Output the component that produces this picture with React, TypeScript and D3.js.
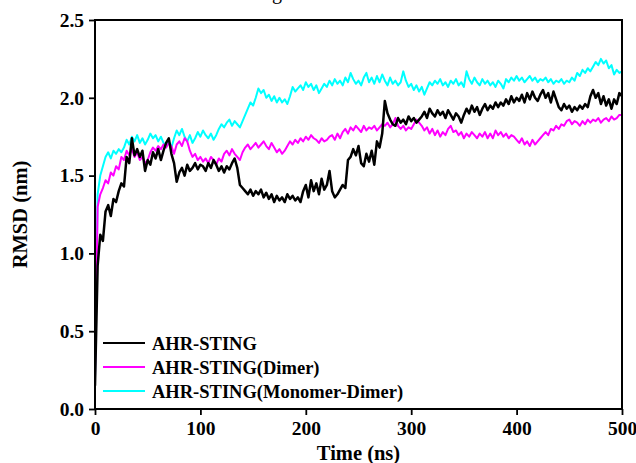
import React, { useEffect, useRef } from "react";
import * as d3 from "d3";

// RMSD trajectories, sampled every 2.5 ns from 0 to 500 ns (nm)
const timeStep = 2.5;

const ahrSting = [
  0.15, 0.92, 1.12, 1.08, 1.27, 1.31, 1.24, 1.35, 1.33, 1.40,
  1.45, 1.43, 1.62, 1.58, 1.74, 1.63, 1.67, 1.62, 1.66, 1.53,
  1.60, 1.57, 1.65, 1.61, 1.67, 1.60, 1.66, 1.71, 1.74, 1.64,
  1.58, 1.46, 1.52, 1.55, 1.50, 1.57, 1.53, 1.55, 1.58, 1.54,
  1.57, 1.56, 1.53, 1.58, 1.55, 1.60, 1.57, 1.53, 1.56, 1.52,
  1.56, 1.54, 1.58, 1.61, 1.55, 1.44, 1.42, 1.40, 1.38, 1.41,
  1.37, 1.40, 1.38, 1.41, 1.36, 1.39, 1.35, 1.38, 1.33, 1.37,
  1.34, 1.36, 1.33, 1.38, 1.35, 1.37, 1.34, 1.36, 1.33, 1.40,
  1.44, 1.36, 1.47, 1.40, 1.45, 1.38, 1.48, 1.41, 1.44, 1.53,
  1.40, 1.36, 1.38, 1.41, 1.44, 1.42, 1.60, 1.62, 1.67, 1.63,
  1.69, 1.58, 1.56, 1.64, 1.59, 1.66, 1.57, 1.72, 1.68, 1.77,
  1.98, 1.90, 1.86, 1.83, 1.82, 1.87, 1.84, 1.86, 1.83, 1.88,
  1.85, 1.87, 1.84, 1.86, 1.88, 1.91, 1.87, 1.93, 1.90, 1.88,
  1.92, 1.89, 1.91, 1.87, 1.92, 1.89, 1.86, 1.90, 1.88, 1.84,
  1.89, 1.93, 1.90, 1.95, 1.91, 1.94, 1.89, 1.93, 1.96, 1.92,
  1.95, 1.93, 1.97, 1.94, 1.97, 1.95, 1.99, 1.96, 2.01, 1.97,
  2.00, 1.98, 2.02, 1.97, 2.03, 1.99, 2.04, 2.00, 1.98, 2.02,
  2.05, 2.00, 2.03, 1.97, 2.04, 1.99, 1.94, 1.92, 1.96, 1.93,
  1.95, 1.91, 1.94, 1.92, 1.95, 1.93, 1.96, 1.94, 2.01, 2.05,
  2.00, 2.03, 1.96, 2.01, 1.95, 1.99, 1.93, 1.99, 1.96, 2.03,
  2.01,
];

const ahrStingDimer = [
  0.20, 1.30, 1.38, 1.42, 1.47, 1.45, 1.52, 1.50, 1.56, 1.54,
  1.62, 1.60, 1.66, 1.63, 1.67, 1.62, 1.65, 1.60, 1.62, 1.58,
  1.60, 1.65, 1.68, 1.66, 1.69, 1.67, 1.70, 1.68, 1.71, 1.69,
  1.64, 1.70, 1.72, 1.69, 1.74, 1.72, 1.66, 1.62, 1.64, 1.60,
  1.62, 1.59, 1.61, 1.58, 1.62, 1.60, 1.57, 1.61, 1.59, 1.64,
  1.66, 1.63, 1.67, 1.64, 1.62, 1.60, 1.65, 1.68, 1.70, 1.67,
  1.69, 1.71, 1.68, 1.70, 1.72, 1.69, 1.67, 1.71, 1.68, 1.65,
  1.67, 1.64, 1.66, 1.69, 1.72, 1.70, 1.73, 1.71, 1.74, 1.72,
  1.75, 1.73, 1.76, 1.74, 1.73, 1.71, 1.74, 1.72, 1.73, 1.75,
  1.76, 1.73, 1.77, 1.74, 1.78, 1.80, 1.77, 1.81, 1.79, 1.82,
  1.80, 1.78, 1.82, 1.79, 1.81, 1.80, 1.82, 1.79, 1.81, 1.83,
  1.82, 1.84, 1.81, 1.83, 1.87, 1.82, 1.80, 1.82, 1.79, 1.81,
  1.80, 1.83, 1.86, 1.84, 1.82, 1.79, 1.81, 1.77, 1.80, 1.76,
  1.79, 1.75, 1.78, 1.76, 1.80, 1.82, 1.78, 1.79, 1.76, 1.78,
  1.74, 1.77, 1.75, 1.78, 1.76, 1.74, 1.77, 1.75, 1.78, 1.74,
  1.77, 1.74, 1.79, 1.76, 1.78, 1.75, 1.77, 1.74, 1.76, 1.75,
  1.73, 1.71, 1.74, 1.70, 1.72, 1.69, 1.73, 1.70, 1.72, 1.74,
  1.76, 1.78, 1.76, 1.80, 1.79, 1.82, 1.80, 1.83, 1.82, 1.85,
  1.86, 1.83, 1.85, 1.84, 1.82, 1.85, 1.83, 1.86, 1.84, 1.86,
  1.85, 1.87, 1.84, 1.86, 1.87, 1.85, 1.88, 1.86, 1.87, 1.89,
  1.89,
];

const ahrStingMonomerDimer = [
  0.20, 1.38, 1.50, 1.56, 1.62, 1.65, 1.61, 1.66, 1.64, 1.67,
  1.65, 1.68, 1.73, 1.70, 1.75, 1.72, 1.76, 1.71, 1.74, 1.70,
  1.73, 1.77, 1.74, 1.76, 1.72, 1.75, 1.71, 1.69, 1.72, 1.68,
  1.74, 1.79, 1.76, 1.80, 1.75, 1.72, 1.76, 1.71, 1.74, 1.78,
  1.75, 1.79, 1.76, 1.74, 1.77, 1.73, 1.76, 1.80, 1.83, 1.81,
  1.84, 1.86, 1.82, 1.85, 1.83, 1.81, 1.85, 1.89, 1.93, 1.97,
  1.95, 2.00, 2.06, 2.03, 2.05, 2.00, 2.02, 1.98, 2.01, 1.97,
  2.00, 1.97, 1.99, 1.96, 2.01, 2.07, 2.04, 2.06, 2.08, 2.05,
  2.10, 2.07, 2.09, 2.05, 2.08, 2.03, 2.06, 2.09, 2.07, 2.11,
  2.08, 2.12, 2.09, 2.11, 2.08, 2.13, 2.10, 2.16, 2.12, 2.09,
  2.11, 2.08, 2.13, 2.16, 2.10, 2.13, 2.09, 2.14, 2.10, 2.15,
  2.11, 2.08, 2.13, 2.09, 2.11, 2.08, 2.10, 2.17, 2.11, 2.07,
  2.09, 2.05, 2.08, 2.04, 2.07, 2.02, 2.06, 2.10, 2.08, 2.11,
  2.09, 2.12, 2.08, 2.10, 2.07, 2.11, 2.09, 2.12, 2.08, 2.10,
  2.07, 2.17, 2.12, 2.09, 2.13, 2.10, 2.08, 2.12, 2.09, 2.11,
  2.08, 2.10, 2.07, 2.11, 2.09, 2.06, 2.12, 2.10, 2.13, 2.11,
  2.14, 2.11, 2.13, 2.10, 2.12, 2.14, 2.11, 2.13, 2.10, 2.12,
  2.11, 2.13, 2.10, 2.12, 2.09, 2.11, 2.10, 2.12, 2.09, 2.11,
  2.10, 2.13, 2.11, 2.16, 2.14, 2.18, 2.16, 2.19, 2.17, 2.20,
  2.23, 2.21, 2.25, 2.22, 2.24, 2.19, 2.21, 2.15, 2.18, 2.16,
  2.17,
];

const seriesNames = ["AHR-STING", "AHR-STING(Dimer)", "AHR-STING(Monomer-Dimer)"];
const seriesColors = ["#000000", "#ff00ff", "#00ffff"];
const seriesValues = [ahrSting, ahrStingDimer, ahrStingMonomerDimer];

const xTicks = [0, 100, 200, 300, 400, 500];
const yTicks = [0.0, 0.5, 1.0, 1.5, 2.0, 2.5];

const W = 636;
const H = 463;
const margin = { left: 95, right: 14, top: 20, bottom: 54 };
const FONT = "'Liberation Serif', 'Times New Roman', serif";

export default function App() {
  const xAxisRef = useRef<SVGGElement>(null);
  const yAxisRef = useRef<SVGGElement>(null);

  const innerW = W - margin.left - margin.right;
  const innerH = H - margin.top - margin.bottom;

  const x = d3.scaleLinear().domain([0, 500]).range([0, innerW]);
  const y = d3.scaleLinear().domain([0, 2.5]).range([innerH, 0]);

  const line = d3
    .line<number>()
    .x((_, i) => x(i * timeStep))
    .y((v) => y(v));

  useEffect(() => {
    const styleAxis = (g: d3.Selection<SVGGElement, unknown, null, undefined>) => {
      g.select(".domain").remove();
      g.selectAll(".tick line").attr("stroke", "#000").attr("stroke-width", 1.8);
      g.selectAll(".tick text")
        .attr("fill", "#000")
        .style("font-family", FONT)
        .style("font-weight", "bold")
        .style("font-size", "19.5px");
    };
    if (xAxisRef.current) {
      const g = d3.select(xAxisRef.current);
      g.call(
        d3.axisBottom(x).tickValues(xTicks).tickSize(6).tickPadding(6).tickFormat(d3.format("d"))
      );
      styleAxis(g);
    }
    if (yAxisRef.current) {
      const g = d3.select(yAxisRef.current);
      g.call(
        d3.axisLeft(y).tickValues(yTicks).tickSize(6).tickPadding(5).tickFormat(d3.format(".1f"))
      );
      styleAxis(g);
    }
  });

  return (
    <svg
      width={W}
      height={H}
      style={{ position: "absolute", left: 0, top: 0, background: "#fff" }}
    >
      <text
        x={277}
        y={-1}
        textAnchor="middle"
        fontFamily={FONT}
        fontSize={20}
        fill="#000"
      >
        g
      </text>
      <g transform={`translate(${margin.left},${margin.top})`}>
        <defs>
          <clipPath id="plot-clip">
            <rect x={0} y={0} width={innerW} height={innerH} />
          </clipPath>
        </defs>
        <g clipPath="url(#plot-clip)">
          {[2, 1, 0].map((k) => (
            <path
              key={seriesNames[k]}
              d={line(seriesValues[k]) || ""}
              fill="none"
              stroke={seriesColors[k]}
              strokeWidth={k === 0 ? 2.5 : 2}
              strokeLinejoin="round"
            />
          ))}
        </g>
        <rect
          x={0}
          y={0}
          width={innerW}
          height={innerH}
          fill="none"
          stroke="#000"
          strokeWidth={2}
        />
        <g ref={xAxisRef} transform={`translate(0,${innerH})`} />
        <g ref={yAxisRef} />
        {/* legend */}
        {seriesNames.map((name, i) => (
          <g key={name} transform={`translate(8,${323 + i * 24})`}>
            <line x1={0} x2={42} y1={0} y2={0} stroke={seriesColors[i]} strokeWidth={2} />
            <text
              x={49}
              y={6.5}
              fontFamily={FONT}
              fontWeight="bold"
              fontSize={18.5}
              fill="#000"
            >
              {name}
            </text>
          </g>
        ))}
        <text
          x={innerW / 2}
          y={innerH + 51}
          textAnchor="middle"
          fontFamily={FONT}
          fontWeight="bold"
          fontSize={20.5}
          fill="#000"
        >
          Time (ns)
        </text>
        <text
          transform={`translate(-68,${innerH / 2}) rotate(-90)`}
          textAnchor="middle"
          fontFamily={FONT}
          fontWeight="bold"
          fontSize={20.5}
          fill="#000"
        >
          RMSD (nm)
        </text>
      </g>
    </svg>
  );
}
